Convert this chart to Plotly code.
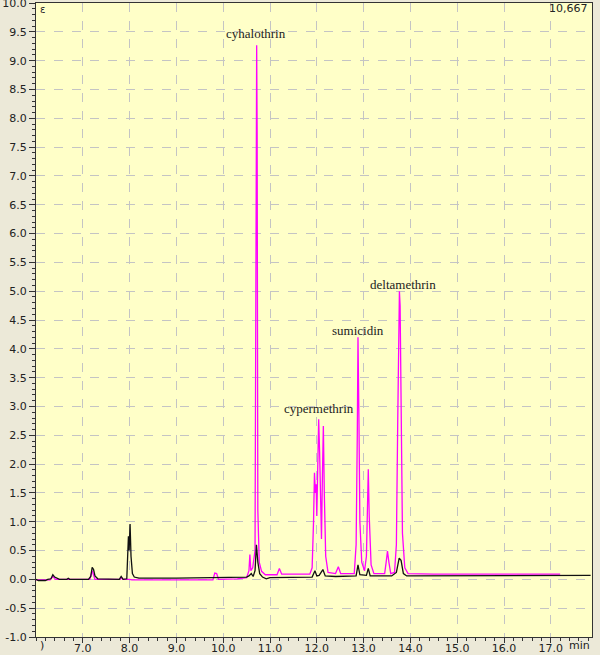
import plotly.graph_objects as go

# retention time (min) / signal
black_t = [6.00, 6.05, 6.20, 6.25, 6.32, 6.36, 6.40, 6.45, 6.50, 6.66, 6.69, 6.72,
           7.12, 7.17, 7.20, 7.23, 7.26, 7.32, 7.78, 7.82, 7.86, 7.94, 7.96, 7.975,
           7.99, 8.01, 8.03, 8.06, 8.10, 8.20, 9.00, 10.00, 10.50, 10.55, 10.60, 10.64,
           10.68, 10.71, 10.74, 10.78, 10.84, 10.92, 11.00, 11.90, 11.96, 12.00, 12.05,
           12.13, 12.18, 12.40, 12.84, 12.88, 12.92, 13.06, 13.10, 13.14, 13.60, 13.70,
           13.76, 13.80, 13.85, 13.92, 15.00, 16.00, 17.85]
black_v = [0.00, -0.02, -0.02, 0.00, 0.01, 0.08, 0.04, 0.02, 0.00, 0.00, 0.02, 0.00,
           0.00, 0.05, 0.21, 0.17, 0.06, 0.01, 0.00, 0.05, 0.00, 0.01, 0.40, 0.75,
           0.50, 0.96, 0.40, 0.10, 0.04, 0.02, 0.02, 0.03, 0.04, 0.06, 0.10, 0.05,
           0.15, 0.60, 0.30, 0.10, 0.04, 0.01, 0.03, 0.04, 0.15, 0.06, 0.07,
           0.17, 0.06, 0.05, 0.06, 0.25, 0.08, 0.07, 0.19, 0.06, 0.06, 0.12,
           0.37, 0.33, 0.10, 0.06, 0.06, 0.07, 0.07]

magenta_t = [6.00, 6.30, 6.36, 6.42, 7.15, 7.20, 7.26, 7.80, 7.83, 7.86, 8.00, 8.05,
             9.78, 9.82, 9.86, 9.90, 10.30, 10.50, 10.55, 10.57, 10.59, 10.63, 10.68,
             10.70, 10.715, 10.725, 10.74, 10.77, 10.82, 10.90, 11.15, 11.20, 11.25,
             11.85, 11.90, 11.93, 11.95, 11.97, 11.985, 12.00, 12.02, 12.04, 12.06,
             12.08, 12.10, 12.12, 12.14, 12.16, 12.19, 12.24, 12.40, 12.46, 12.51,
             12.80, 12.84, 12.865, 12.88, 12.90, 12.92, 12.96, 13.02, 13.06, 13.085,
             13.10, 13.12, 13.16, 13.22, 13.45, 13.49, 13.51, 13.54, 13.58, 13.66,
             13.70, 13.73, 13.75, 13.765, 13.78, 13.80, 13.83, 13.88, 13.95, 14.50,
             15.00, 16.00, 17.20]
magenta_v = [-0.01, -0.01, 0.05, 0.00, 0.00, 0.15, 0.00, 0.00, 0.03, 0.00, 0.00, -0.01,
             -0.01, 0.11, 0.10, 0.00, 0.01, 0.03, 0.15, 0.43, 0.15, 0.20, 0.50,
             6.90, 9.27, 7.74, 1.20, 0.30, 0.14, 0.08, 0.08, 0.19, 0.09,
             0.09, 0.20, 1.00, 1.85, 1.50, 1.65, 1.10, 2.00, 2.78, 2.20,
             1.20, 0.70, 1.80, 2.66, 1.50, 0.40, 0.12, 0.10, 0.22, 0.10,
             0.10, 0.60, 2.50, 4.20, 2.80, 1.00, 0.30, 0.15, 0.40, 1.40,
             1.91, 1.10, 0.25, 0.10, 0.10, 0.35, 0.49, 0.30, 0.10, 0.12,
             0.60, 2.80, 4.70, 5.00, 4.75, 2.70, 0.80, 0.20, 0.10, 0.09,
             0.09, 0.09, 0.09]

peak_names = ["cyhalothrin", "cypermethrin", "sumicidin", "deltamethrin"]
peak_label_t = [10.7, 12.05, 12.87, 13.85]
peak_label_v = [9.48, 2.96, 4.31, 5.11]

x_ticks = [7.0, 8.0, 9.0, 10.0, 11.0, 12.0, 13.0, 14.0, 15.0, 16.0, 17.0]
y_ticks = [-1.0, -0.5, 0.0, 0.5, 1.0, 1.5, 2.0, 2.5, 3.0, 3.5, 4.0, 4.5, 5.0,
           5.5, 6.0, 6.5, 7.0, 7.5, 8.0, 8.5, 9.0, 9.5, 10.0]

fig = go.Figure()
fig.add_trace(go.Scatter(x=magenta_t, y=magenta_v, mode="lines",
                         line=dict(color="#FF00FF", width=1.3), hoverinfo="skip"))
fig.add_trace(go.Scatter(x=black_t, y=black_v, mode="lines",
                         line=dict(color="#111111", width=1.3), hoverinfo="skip"))

for name, t, v in zip(peak_names, peak_label_t, peak_label_v):
    fig.add_annotation(x=t, y=v, text=name, showarrow=False,
                       font=dict(family="Liberation Serif", size=13, color="#222222"))

small = dict(family="DejaVu Sans", size=11, color="#222222")
fig.add_annotation(xref="paper", yref="paper", x=0.997, y=0.992, xanchor="right",
                   yanchor="middle", text="10,667", showarrow=False, font=small)
fig.add_annotation(xref="paper", yref="paper", x=0.003, y=0.99, xanchor="left",
                   yanchor="middle", text="ε", showarrow=False,
                   font=dict(family="DejaVu Sans", size=10, color="#222222"))
fig.add_annotation(xref="paper", yref="paper", x=1.0, y=-0.013, xanchor="right",
                   yanchor="middle", text="min", showarrow=False, font=small)
fig.add_annotation(xref="paper", yref="paper", x=0.004, y=-0.013, xanchor="left",
                   yanchor="middle", text=")", showarrow=False, font=small)

fig.update_layout(
    width=600, height=655,
    margin=dict(l=36, r=8, t=3, b=18),
    paper_bgcolor="#ECE9D8",
    plot_bgcolor="#FFFFC8",
    showlegend=False,
    xaxis=dict(range=[6.0, 17.88], tickvals=x_ticks,
               ticktext=["%.1f" % t for t in x_ticks],
               ticks="outside", ticklen=5, tickcolor="#333333",
               ticklabelstandoff=-4, automargin=False,
               minor=dict(dtick=0.2, ticklen=3, tickcolor="#333333", showgrid=False),
               showgrid=True, gridcolor="#C4C4C4", griddash="dash",
               zeroline=False, showline=True, mirror=True, linecolor="#333333",
               tickfont=small, fixedrange=True),
    yaxis=dict(range=[-1.0, 10.001], tickvals=y_ticks,
               ticktext=["%.1f" % v for v in y_ticks],
               ticks="outside", ticklen=6, tickcolor="#333333", automargin=False,
               ticklabeloverflow="allow",
               minor=dict(dtick=0.1, ticklen=3, tickcolor="#333333", showgrid=False),
               showgrid=True, gridcolor="#C4C4C4", griddash="dash",
               zeroline=False, showline=True, mirror=True, linecolor="#333333",
               tickfont=small, fixedrange=True),
)

fig.write_html("out.html", config={"displayModeBar": False},
               post_script="document.body.style.margin='0';document.body.style.overflow='hidden';")
